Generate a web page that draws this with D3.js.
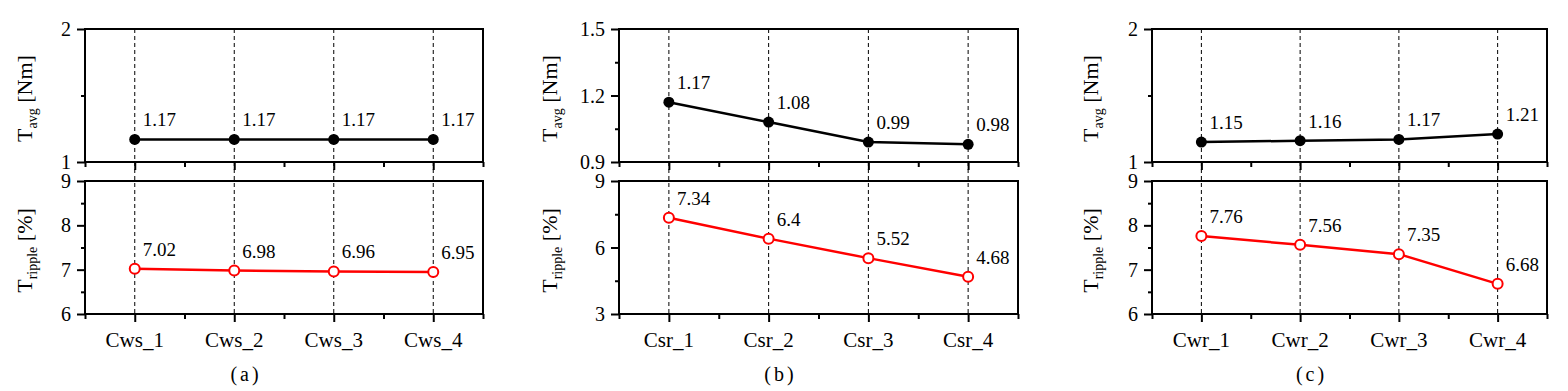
<!DOCTYPE html>
<html>
<head>
<meta charset="utf-8">
<script src="https://cdn.jsdelivr.net/npm/d3@7"></script>
<style>
  body { margin: 0; background: #fff; }
  svg { display: block; }
  svg text { font-family: "Liberation Serif", "Tinos", "DejaVu Serif", serif; fill: #000; }
</style>
</head>
<body>
<svg id="chart" width="1568" height="391"></svg>
<script>
// data
const catsA = ["Cws_1", "Cws_2", "Cws_3", "Cws_4"];
const avgA = [1.17, 1.17, 1.17, 1.17];
const ripA = [7.02, 6.98, 6.96, 6.95];

const catsB = ["Csr_1", "Csr_2", "Csr_3", "Csr_4"];
const avgB = [1.17, 1.08, 0.99, 0.98];
const ripB = [7.34, 6.4, 5.52, 4.68];

const catsC = ["Cwr_1", "Cwr_2", "Cwr_3", "Cwr_4"];
const avgC = [1.15, 1.16, 1.17, 1.21];
const ripC = [7.76, 7.56, 7.35, 6.68];

const avgTicksA = [1, 2];
const avgTicksB = [0.9, 1.2, 1.5];
const avgTicksC = [1, 2];
const ripTicksA = [6, 7, 8, 9];
const ripTicksB = [3, 6, 9];
const ripTicksC = [6, 7, 8, 9];

const tags = ["(a)", "(b)", "(c)"];

const panels = [
  { cats: catsA, avg: avgA, rip: ripA, avgTicks: avgTicksA, ripTicks: ripTicksA, tag: tags[0], x0: 85, x1: 483, titleOff: 53 },
  { cats: catsB, avg: avgB, rip: ripB, avgTicks: avgTicksB, ripTicks: ripTicksB, tag: tags[1], x0: 619, x1: 1018, titleOff: 62 },
  { cats: catsC, avg: avgC, rip: ripC, avgTicks: avgTicksC, ripTicks: ripTicksC, tag: tags[2], x0: 1152, x1: 1547, titleOff: 54 }
];

const topY = [29, 162], botY = [181, 314];
const svg = d3.select("#chart");
const serif = "Liberation Serif, Tinos, DejaVu Serif, serif";

function minorsOf(ticks) {
  const m = [];
  for (let i = 0; i < ticks.length - 1; i++) m.push((ticks[i] + ticks[i + 1]) / 2);
  return m;
}

function yTitle(g, x, y, sub, unit) {
  const t = g.append("text")
    .attr("transform", `translate(${x},${y}) rotate(-90)`)
    .attr("text-anchor", "middle")
    .attr("font-size", 22);
  t.append("tspan").text("T");
  t.append("tspan").attr("font-size", 14).attr("dy", 5).text(sub);
  t.append("tspan").attr("dy", -5).text(" " + unit);
}

function drawPlot(g, p, x, yr, vals, ticks, filled, sub, unit) {
  const y = d3.scaleLinear().domain([ticks[0], ticks[ticks.length - 1]]).range([yr[1], yr[0]]);
  const col = filled ? "#000" : "#ff0000";

  // y axis major + minor
  const yMaj = d3.axisLeft(y).tickValues(ticks).tickSize(8).tickPadding(6).tickFormat(d3.format("~g"));
  const yMin = d3.axisLeft(y).tickValues(minorsOf(ticks)).tickSize(4).tickFormat("");
  [yMaj, yMin].forEach(ax => {
    const a = g.append("g").attr("transform", `translate(${p.x0},0)`).call(ax)
      .attr("font-family", serif);
    a.select(".domain").remove();
    a.selectAll("line").attr("stroke", "#000").attr("stroke-width", 2);
    a.selectAll("text").attr("font-size", 20).attr("dy", "0.33em");
  });

  // x axis ticks at bottom of this plot
  const xMaj = d3.axisBottom(x).tickValues([1, 2, 3, 4]).tickSize(8).tickFormat("");
  const xMin = d3.axisBottom(x).tickValues([0.5, 1.5, 2.5, 3.5, 4.5]).tickSize(5).tickFormat("");
  [xMaj, xMin].forEach(ax => {
    const a = g.append("g").attr("transform", `translate(0,${yr[1]})`).call(ax);
    a.select(".domain").remove();
    a.selectAll("line").attr("stroke", "#000").attr("stroke-width", 2);
  });

  // frame
  g.append("rect").attr("x", p.x0).attr("y", yr[0])
    .attr("width", p.x1 - p.x0).attr("height", yr[1] - yr[0])
    .attr("fill", "none").attr("stroke", "#000").attr("stroke-width", 2);

  const pts = vals.map((v, i) => [x(i + 1), y(v)]);
  g.append("path").attr("d", d3.line()(pts))
    .attr("fill", "none").attr("stroke", col).attr("stroke-width", 2.5);

  g.selectAll(null).data(vals).join("circle")
    .attr("cx", (d, i) => x(i + 1)).attr("cy", d => y(d))
    .attr("r", filled ? 5.5 : 5)
    .attr("fill", filled ? "#000" : "#fff")
    .attr("stroke", col).attr("stroke-width", filled ? 0 : 2);

  g.selectAll(null).data(vals).join("text")
    .attr("x", (d, i) => x(i + 1) + 8).attr("y", d => y(d) - 13)
    .attr("font-size", 19)
    .text(d => String(d));

  yTitle(g, p.x0 - p.titleOff, (yr[0] + yr[1]) / 2 + 3, sub, unit);
}

panels.forEach(p => {
  const g = svg.append("g");
  const x = d3.scaleLinear().domain([0.5, 4.5]).range([p.x0, p.x1]);

  // dashed guides through both plots
  g.selectAll(null).data(p.cats).join("line")
    .attr("x1", (d, i) => x(i + 1)).attr("x2", (d, i) => x(i + 1))
    .attr("y1", topY[0]).attr("y2", botY[1])
    .attr("stroke", "#000").attr("stroke-width", 1).attr("stroke-dasharray", "4,3");

  drawPlot(g, p, x, topY, p.avg, p.avgTicks, true, "avg", "[Nm]");
  drawPlot(g, p, x, botY, p.rip, p.ripTicks, false, "ripple", "[%]");

  g.selectAll(null).data(p.cats).join("text")
    .attr("x", (d, i) => x(i + 1)).attr("y", 347)
    .attr("text-anchor", "middle").attr("font-size", 21)
    .text(d => d);

  g.append("text")
    .attr("x", (p.x0 + p.x1) / 2 - 38).attr("y", 381)
    .attr("text-anchor", "middle").attr("font-size", 20)
    .attr("letter-spacing", 3)
    .text(p.tag);
});
</script>
</body>
</html>
